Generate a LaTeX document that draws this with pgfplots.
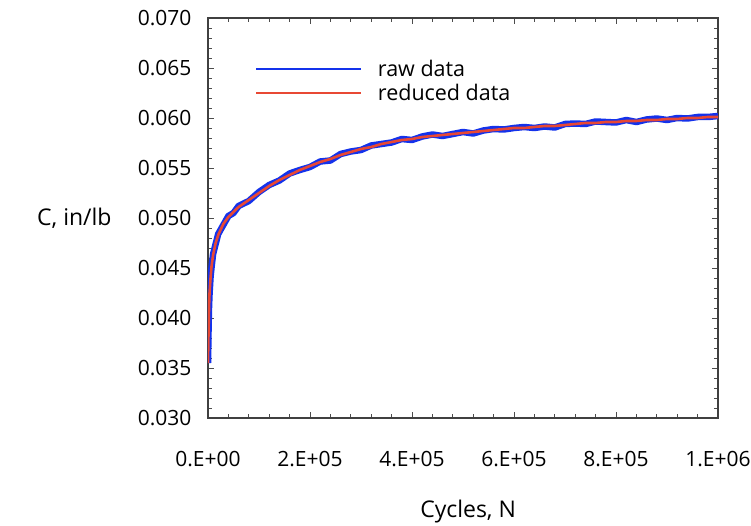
\documentclass[border=0pt]{standalone}
\usepackage{pgfplots}
\pgfplotsset{compat=1.18}
\usepackage{fontspec}
\setmainfont{Open Sans}
\definecolor{rawblue}{RGB}{20,50,235}
\definecolor{redline}{RGB}{232,72,52}
\begin{document}
\begin{tikzpicture}
\path[use as bounding box] (-208pt,-107pt) rectangle (543pt,418pt);
\begin{axis}[
  at={(0,0)}, anchor=south west,
  scale only axis, width=510pt, height=400pt,
  xmin=0, xmax=1000000, ymin=0.030, ymax=0.070,
  xtick={0,200000,400000,600000,800000,1000000},
  xticklabels={0.E+00,2.E+05,4.E+05,6.E+05,8.E+05,1.E+06},
  scaled x ticks=false, scaled y ticks=false,
  ytick={0.030,0.035,0.040,0.045,0.050,0.055,0.060,0.065,0.070},
  yticklabel style={/pgf/number format/fixed,/pgf/number format/fixed zerofill,/pgf/number format/precision=3, xshift=-13pt},
  /pgf/number format/assume math mode=true,
  minor x tick num=4, minor y tick num=4,
  tick align=inside, major tick length=6pt, minor tick length=4pt,
  tick style={black!70, line width=0.8pt},
  axis line style={draw=black!75, line width=1.6pt},
  tick label style={font=\fontsize{21}{24}\selectfont},
  xticklabel style={yshift=-30pt},
  xlabel={Cycles, N}, ylabel={C, in/lb},
  every axis x label/.style={at={(rel axis cs:0.51,-0.235)}, anchor=center, font=\fontsize{23}{26}\selectfont},
  every axis y label/.style={at={(rel axis cs:-0.262,0.5)}, anchor=center, font=\fontsize{23}{26}\selectfont},
  legend style={draw=none, fill=none, at={(rel axis cs:0.092,0.90)}, anchor=north west,
    font=\fontsize{21.5}{24}\selectfont, row sep=2pt, inner sep=0pt,
    /tikz/every odd column/.style={column sep=14pt}},
  legend cell align=left,
  legend image code/.code={\draw[#1, line width=1.8pt] (0pt,0pt) -- (105pt,0pt);},
]
\addplot[rawblue, line width=6.5pt, line join=round] coordinates {
(0,0.0355)(1000,0.0387)(2000,0.0411)(3000,0.0424)(5000,0.0441)(7000,0.0451)
(10000,0.0464)(15000,0.0474)(20000,0.0484)(30000,0.0493)(40000,0.0502)
(50000,0.0505)(60000,0.0512)(80000,0.0517)(100000,0.0526)(120000,0.0533)
(140000,0.05375)(160000,0.05445)(180000,0.0548)(200000,0.0551)(220000,0.05565)
(240000,0.05575)(260000,0.0564)(280000,0.05665)(300000,0.0568)(320000,0.05725)
(340000,0.0574)(360000,0.05755)(380000,0.0579)(400000,0.0578)(420000,0.05815)
(440000,0.05835)(460000,0.0582)(480000,0.0584)(500000,0.0586)(520000,0.05845)
(540000,0.05875)(560000,0.0589)(580000,0.05885)(600000,0.0590)(620000,0.0591)
(640000,0.0590)(660000,0.05915)(680000,0.05905)(700000,0.0594)(720000,0.05945)
(740000,0.0594)(760000,0.05965)(780000,0.0596)(800000,0.05955)(820000,0.0598)
(840000,0.0596)(860000,0.05985)(880000,0.05995)(900000,0.0598)(920000,0.0600)
(940000,0.05995)(960000,0.0601)(980000,0.0601)(1000000,0.0602)
};
\addlegendentry{raw data}
\addplot[redline, line width=2.6pt, line join=round] coordinates {
(0,0.0355)(1000,0.0385)(2000,0.0410)(3000,0.0425)(5000,0.0440)(7000,0.0452)
(10000,0.0463)(15000,0.0475)(20000,0.0483)(30000,0.0494)(40000,0.0501)
(50000,0.0506)(60000,0.0511)(80000,0.0518)(100000,0.0525)(120000,0.0532)
(140000,0.0538)(160000,0.0543)(180000,0.0548)(200000,0.0552)(220000,0.0556)
(240000,0.0559)(260000,0.0563)(280000,0.0566)(300000,0.0569)(320000,0.0571)
(340000,0.0574)(360000,0.0576)(380000,0.0578)(400000,0.0579)(420000,0.0581)
(440000,0.0582)(460000,0.0583)(480000,0.0584)(500000,0.0585)(520000,0.0586)
(540000,0.0587)(560000,0.0588)(580000,0.0589)(600000,0.0590)(620000,0.0590)
(640000,0.0591)(660000,0.0592)(680000,0.0592)(700000,0.0593)(720000,0.0594)
(740000,0.0595)(760000,0.0595)(780000,0.0596)(800000,0.0596)(820000,0.0597)
(840000,0.0597)(860000,0.0598)(880000,0.0598)(900000,0.0599)(920000,0.0599)
(940000,0.0600)(960000,0.0600)(980000,0.0601)(1000000,0.0601)
};
\addlegendentry{reduced data}
\end{axis}
\end{tikzpicture}
\end{document}
